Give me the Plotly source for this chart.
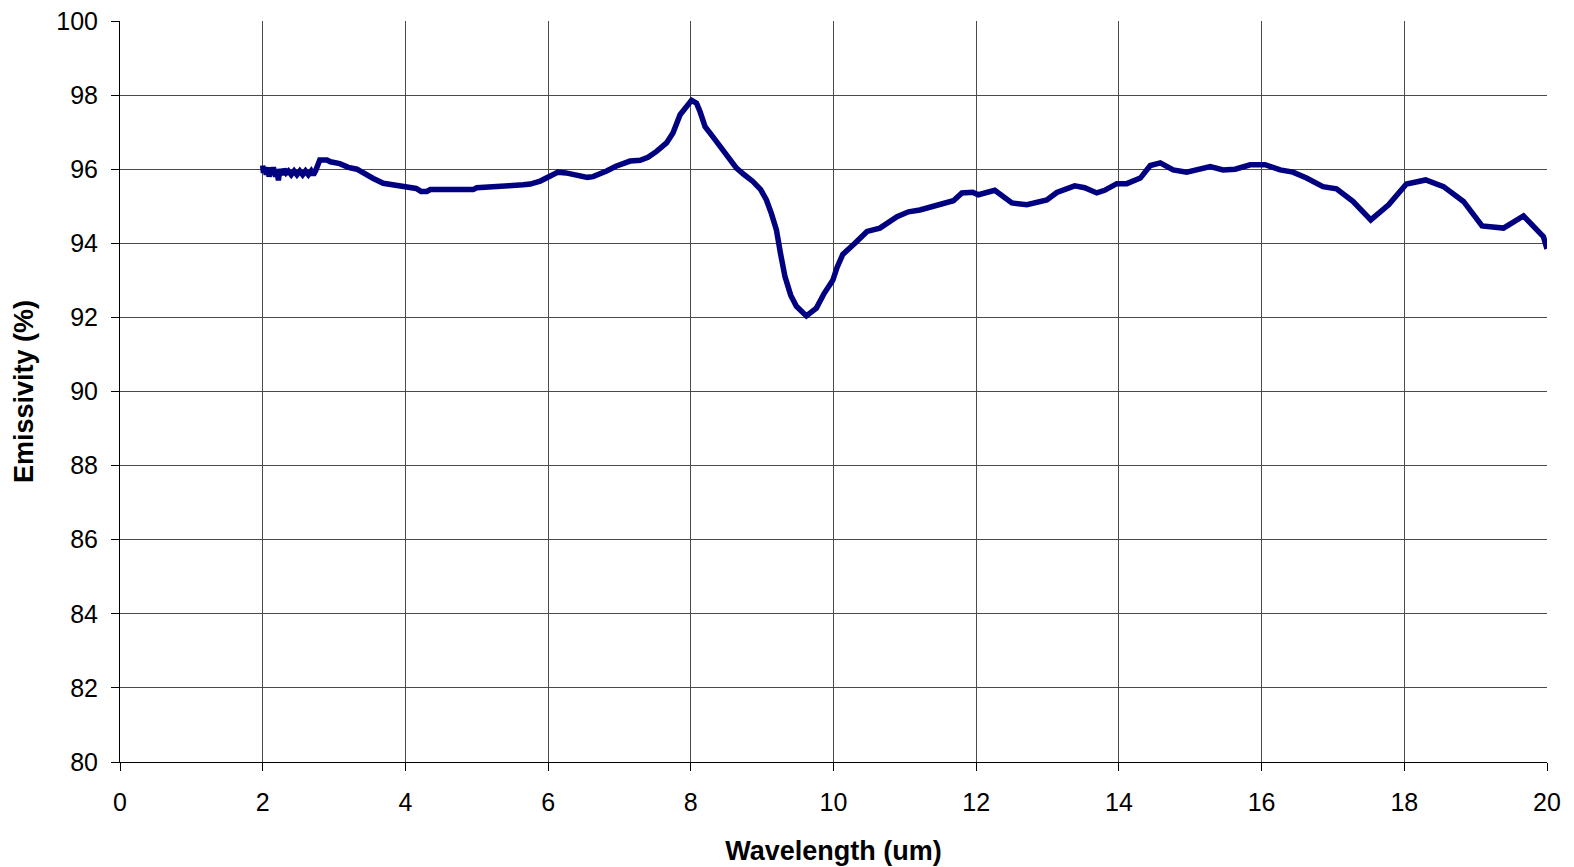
import plotly.graph_objects as go

wavelength = [
    2.00, 2.01, 2.03, 2.05, 2.07, 2.09, 2.11, 2.13, 2.15, 2.18, 2.20, 2.22, 2.24, 2.27,
    2.30, 2.33, 2.36, 2.40, 2.44, 2.48, 2.52, 2.56, 2.60, 2.64, 2.68, 2.71, 2.74, 2.77,
    2.80, 2.90, 2.95, 3.08, 3.20, 3.32, 3.45, 3.55, 3.69, 3.85, 4.02, 4.15, 4.22, 4.30,
    4.35, 4.48, 4.95, 5.00, 5.33, 5.45, 5.65, 5.75, 5.89, 6.00, 6.14, 6.25, 6.35, 6.45,
    6.55, 6.63, 6.75, 6.82, 6.95, 7.05, 7.15, 7.29, 7.40, 7.52, 7.66, 7.75, 7.85, 8.01,
    8.08, 8.13, 8.20, 8.30, 8.41, 8.50, 8.64, 8.75, 8.87, 8.98, 9.06, 9.13, 9.20, 9.26,
    9.32, 9.40, 9.48, 9.62, 9.76, 9.87, 9.99, 10.05, 10.13, 10.30, 10.47, 10.65, 10.89,
    11.05, 11.21, 11.40, 11.68, 11.80, 11.95, 12.03, 12.26, 12.50, 12.71, 12.99, 13.13,
    13.38, 13.52, 13.69, 13.80, 13.97, 14.11, 14.30, 14.44, 14.58, 14.76, 14.95, 15.28,
    15.46, 15.63, 15.84, 16.05, 16.26, 16.44, 16.63, 16.86, 17.05, 17.28, 17.53, 17.78,
    18.03, 18.30, 18.55, 18.83, 19.09, 19.39, 19.67, 19.95, 20.00,
]

emissivity = [
    96.10, 95.90, 96.05, 95.85, 96.05, 95.80, 96.00, 95.85, 96.05, 95.80, 95.95, 95.70, 96.00, 95.85,
    96.00, 95.90, 95.95, 95.85, 95.95, 95.85, 95.95, 95.85, 95.95, 95.85, 95.95, 95.85, 95.95, 96.15,
    96.25, 96.25, 96.20, 96.15, 96.05, 96.00, 95.85, 95.75, 95.62, 95.58, 95.52, 95.48, 95.40, 95.40,
    95.45, 95.45, 95.45, 95.50, 95.52, 95.55, 95.58, 95.60, 95.68, 95.80, 95.92, 95.90, 95.85, 95.80,
    95.78, 95.80, 95.88, 95.95, 96.08, 96.15, 96.22, 96.24, 96.32, 96.48, 96.71, 96.98, 97.47, 97.86,
    97.78, 97.55, 97.15, 96.90, 96.61, 96.38, 96.03, 95.85, 95.67, 95.45, 95.17, 94.80, 94.36, 93.70,
    93.10, 92.60, 92.30, 92.04, 92.25, 92.65, 93.00, 93.35, 93.70, 94.00, 94.32, 94.41, 94.72,
    94.85, 94.90, 95.00, 95.15, 95.36, 95.38, 95.31, 95.43, 95.09, 95.04, 95.17, 95.37,
    95.55, 95.50, 95.36, 95.43, 95.61, 95.61, 95.76, 96.10, 96.17, 95.98, 95.92, 96.07,
    95.98, 96.00, 96.12, 96.12, 95.98, 95.92, 95.76, 95.53, 95.47, 95.13, 94.63, 95.04,
    95.60, 95.71, 95.53, 95.13, 94.47, 94.41, 94.74, 94.18, 93.85,
]

x_ticks = [0, 2, 4, 6, 8, 10, 12, 14, 16, 18, 20]
y_ticks = [80, 82, 84, 86, 88, 90, 92, 94, 96, 98, 100]

FONT = "Liberation Sans, Arial, sans-serif"

fig = go.Figure()
fig.add_trace(go.Scatter(
    x=wavelength, y=emissivity, mode="lines",
    line=dict(color="#000080", width=5.5),
    showlegend=False,
))

axis_common = dict(
    showgrid=True, gridcolor="#4a4a4a", gridwidth=1,
    showline=True, linecolor="black", linewidth=1,
    ticks="outside", ticklen=8, tickcolor="black", tickwidth=1,
    zeroline=False, automargin=False,
    tickfont=dict(family=FONT, size=25, color="black"),
)

fig.update_layout(
    width=1574, height=867,
    paper_bgcolor="white", plot_bgcolor="white",
    margin=dict(l=120, r=27, t=21, b=105),
    xaxis=dict(
        range=[0, 20], tickvals=x_ticks, ticktext=[str(v) for v in x_ticks],
        title=dict(text="<b>Wavelength (um)</b>", font=dict(family=FONT, size=27, color="black"), standoff=26),
        ticklabelstandoff=10,
        **axis_common,
    ),
    yaxis=dict(
        range=[80, 100], tickvals=y_ticks, ticktext=[str(v) for v in y_ticks],
        title=dict(text="<b>Emissivity (%)</b>", font=dict(family=FONT, size=27, color="black"), standoff=14),
        ticklabelstandoff=8,
        **axis_common,
    ),
)

fig.write_html("out.html")
